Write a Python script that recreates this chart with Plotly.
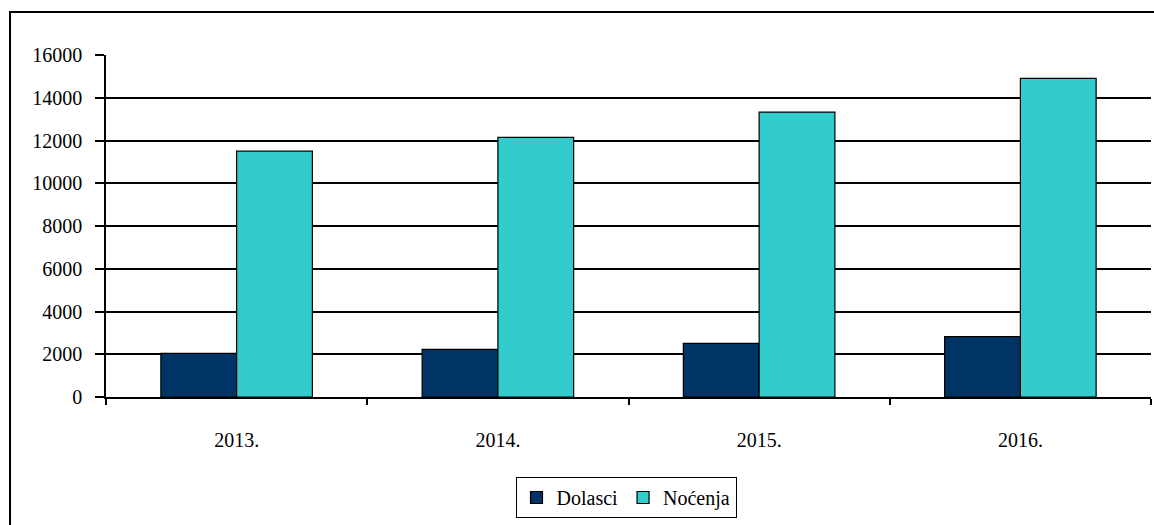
import plotly.graph_objects as go

years = ["2013.", "2014.", "2015.", "2016."]
dolasci = [2040, 2230, 2510, 2820]
nocenja = [11500, 12150, 13330, 14910]
y_ticks = [0, 2000, 4000, 6000, 8000, 10000, 12000, 14000, 16000]

W, H = 1154, 525
L, R, T, B = 106, 3, 55, 128
pw = W - L - R
ph = H - T - B

font = dict(family="Liberation Serif", size=20, color="black")

fig = go.Figure()
fig.add_trace(go.Bar(name="Dolasci", x=years, y=dolasci,
                     marker=dict(color="#003366", line=dict(color="black", width=1.2))))
fig.add_trace(go.Bar(name="Noćenja", x=years, y=nocenja,
                     marker=dict(color="#33CCCC", line=dict(color="black", width=1.2))))

fig.update_layout(
    width=W, height=H,
    margin=dict(l=L, r=R, t=T, b=B),
    paper_bgcolor="white", plot_bgcolor="white",
    font=font,
    barmode="group", bargap=0.42, bargroupgap=0,
    showlegend=True,
    legend=dict(orientation="h", x=(626 - L) / pw, xanchor="center",
                y=(T + ph - 477) / ph, yanchor="top",
                bordercolor="black", borderwidth=1, font=font,
                itemwidth=30, tracegroupgap=0, bgcolor="white"),
    xaxis=dict(type="category", showline=True, linecolor="black", linewidth=1.5,
               ticks="outside", tickson="boundaries", ticklen=6, tickcolor="black",
               tickwidth=1.5, showgrid=False, ticklabelstandoff=24, tickfont=font),
    yaxis=dict(range=[0, 16000], tickvals=y_ticks, tickformat="d", showline=True,
               linecolor="black", linewidth=1.5, ticks="outside", ticklen=9,
               tickcolor="black", tickwidth=1.5,
               showgrid=True, gridcolor="black", gridwidth=1.5, zeroline=False,
               ticklabelstandoff=9, tickfont=font),
    shapes=[dict(type="rect", xref="paper", yref="paper",
                 x0=(10 - L) / pw, x1=(1200 - L) / pw,
                 y0=(T + ph - 560) / ph, y1=(T + ph - 12) / ph,
                 line=dict(color="black", width=2), fillcolor="rgba(0,0,0,0)", layer="below")],
)

fig.write_html("out.html", config={"displayModeBar": False},
               post_script="document.body.style.margin='0';document.body.style.overflow='hidden';")
